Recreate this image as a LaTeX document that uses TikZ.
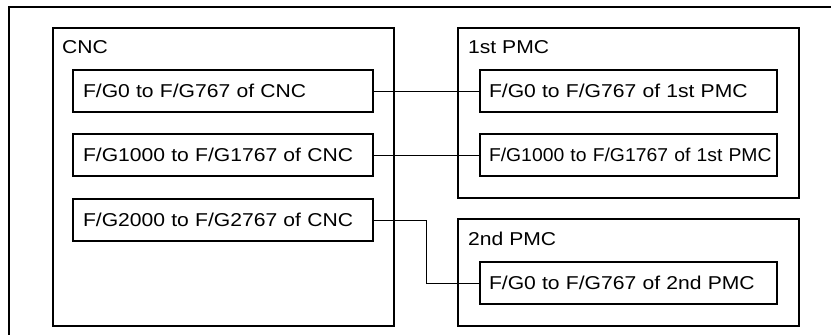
\documentclass[tikz,border=0pt]{standalone}
\usepackage{fontspec}
\setmainfont[FakeStretch=1.135]{Liberation Sans}
\newfontfamily\condfont[FakeStretch=1.04]{Liberation Sans}
\begin{document}
\begin{tikzpicture}[x=1pt,y=-1pt,
  font=\fontsize{18.6}{22}\selectfont,
  frame/.style={draw, line width=1.4pt},
  group/.style={draw, line width=1.3pt, minimum width=341pt, inner sep=0pt},
  regbox/.style={draw, line width=1.3pt, minimum height=42pt, inner xsep=10pt, inner ysep=0pt, align=left},
  glabel/.style={anchor=base west, inner sep=0pt},
  link/.style={draw, line width=1pt}]
\useasboundingbox (0,0) rectangle (831,335);
\begin{scope}
\clip (0,0) rectangle (831,335);
\draw[frame] (9,7) rectangle (850,350);
\end{scope}
% groups
\node[group, minimum height=298pt] (cnc) at (223.5,177) {};
\node[group, minimum height=170pt] (pmc1) at (628.5,113) {};
\node[group, minimum height=107pt] (pmc2) at (628.5,272.5) {};
\node[glabel] (cnclbl) at (62,53) {CNC};
\node[glabel] (pmc1lbl) at (468,53) {1st PMC};
\node[glabel] (pmc2lbl) at (468,245) {2nd PMC};
% register boxes
\node[regbox, text width=280pt] (c1) at (223,91) {F/G0 to F/G767 of CNC};
\node[regbox, text width=280pt] (c2) at (223,155) {F/G1000 to F/G1767 of CNC};
\node[regbox, text width=280pt] (c3) at (223,220) {F/G2000 to F/G2767 of CNC};
\node[regbox, text width=279pt, inner xsep=9pt] (p1) at (628.5,91) {F/G0 to F/G767 of 1st PMC};
\node[regbox, text width=279pt, inner xsep=9pt] (p2) at (628.5,155) {\makebox[279pt][l]{\condfont F/G1000 to F/G1767 of 1st PMC}};
\node[regbox, text width=279pt, inner xsep=9pt] (p3) at (628.5,283) {F/G0 to F/G767 of 2nd PMC};
% connectors
\coordinate (bend) at (426,220);
\draw[link] (c1.east) -- (p1.west);
\draw[link] (c2.east) -- (p2.west);
\draw[link] (c3.east) -- (bend) |- (p3.west);
\end{tikzpicture}
\end{document}
